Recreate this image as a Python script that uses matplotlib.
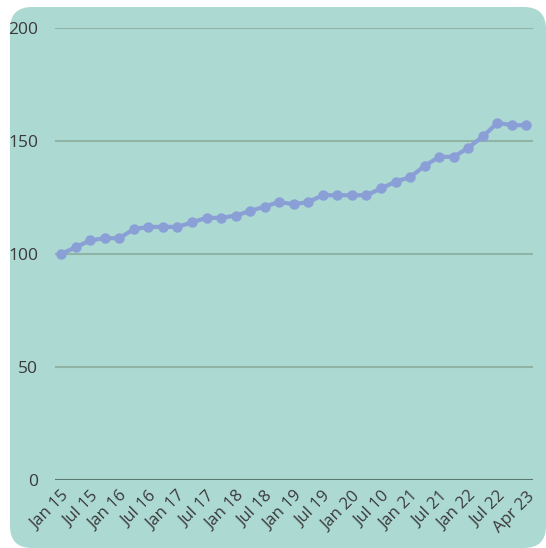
import matplotlib.pyplot as plt
from matplotlib.patches import FancyBboxPatch
from matplotlib.transforms import IdentityTransform

plt.rcParams['font.family'] = ['Open Sans', 'DejaVu Sans']

# quarterly index values, Jan 15 .. Apr 23
values = [100, 103, 106, 107, 107, 111, 112, 112, 112, 114, 116, 116, 117,
          119, 121, 123, 122, 123, 126, 126, 126, 126, 129, 132, 134, 139,
          143, 143, 147, 152, 158, 157, 157]
tick_labels = ['Jan 15', 'Jul 15', 'Jan 16', 'Jul 16', 'Jan 17', 'Jul 17',
               'Jan 18', 'Jul 18', 'Jan 19', 'Jul 19', 'Jan 20', 'Jul 10',
               'Jan 21', 'Jul 21', 'Jan 22', 'Jul 22', 'Apr 23']
tick_pos = list(range(0, len(values), 2))

bg = '#add9d3'
line_color = '#8a9fd6'
text_color = '#3a3a3a'

fig = plt.figure(figsize=(5.46, 5.48), dpi=100)
fig.patch.set_facecolor('white')

# rounded card background (pixel coords)
card = FancyBboxPatch((10 + 22, 22), 536 - 44, 541 - 44,
                      boxstyle='round,pad=22', transform=IdentityTransform(),
                      facecolor=bg, edgecolor='none', zorder=0)
fig.add_artist(card)

ax = fig.add_axes([55 / 546, 1 - 480 / 548, (533 - 55) / 546, (480 - 28) / 548])
ax.set_facecolor('none')

x = list(range(len(values)))
ax.plot(x, values, color=line_color, linewidth=3, marker='o', markersize=6.5,
        zorder=3, clip_on=False)

ax.set_ylim(0, 200)
ax.set_xlim(-0.42, len(values) - 1 + 0.45)
ax.set_yticks([0, 50, 100, 150, 200])
ax.yaxis.grid(True, color='#8fb4a6', linewidth=1.5)
ax.set_axisbelow(True)
for s in ax.spines.values():
    s.set_visible(False)
ax.axhline(0, color='#5b7a70', linewidth=1.5, zorder=2)

ax.set_xticks(tick_pos)
ax.set_xticklabels(tick_labels, rotation=45, ha='right', va='top',
                   rotation_mode='anchor')
ax.tick_params(axis='x', length=0, pad=6, labelsize=12, labelcolor=text_color)
ax.tick_params(axis='y', length=0, pad=12, labelsize=12.5, labelcolor=text_color)

fig.savefig('out.png', dpi=100, facecolor='white')
